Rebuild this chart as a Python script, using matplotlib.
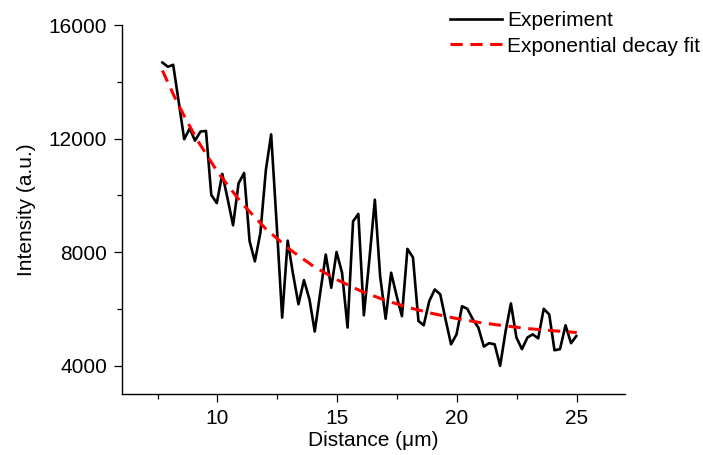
import numpy as np
import matplotlib
matplotlib.use("Agg")
import matplotlib.pyplot as plt
from matplotlib.ticker import MultipleLocator

plt.rcParams['font.family'] = ['Liberation Sans', 'DejaVu Sans']

# intensity profile along the line scan
distance = [7.70, 7.93, 8.15, 8.38, 8.61, 8.84, 9.06, 9.29, 9.52, 9.74,
            9.97, 10.20, 10.43, 10.65, 10.88, 11.11, 11.34, 11.56, 11.79, 12.02,
            12.24, 12.47, 12.70, 12.93, 13.15, 13.38, 13.61, 13.84, 14.06, 14.29,
            14.52, 14.75, 14.97, 15.20, 15.43, 15.66, 15.88, 16.11, 16.34, 16.57,
            16.79, 17.02, 17.25, 17.48, 17.70, 17.93, 18.16, 18.39, 18.61, 18.84,
            19.07, 19.30, 19.52, 19.75, 19.98, 20.21, 20.43, 20.66, 20.89, 21.12,
            21.34, 21.57, 21.80, 22.03, 22.25, 22.48, 22.71, 22.94, 23.16, 23.39,
            23.62, 23.85, 24.07, 24.30, 24.53, 24.76, 24.98]
intensity = [14680, 14530, 14600, 13300, 11980, 12360, 11930, 12250, 12270, 10020,
             9730, 10760, 9850, 8950, 10430, 10790, 8390, 7680, 8680, 10900,
             12150, 9000, 5700, 8410, 7250, 6170, 7020, 6340, 5210, 6580,
             7920, 6750, 8010, 7280, 5350, 9090, 9350, 5780, 7740, 9850,
             7160, 5660, 7280, 6460, 5750, 8120, 7820, 5580, 5430, 6280,
             6690, 6520, 5640, 4760, 5110, 6100, 6010, 5640, 5350, 4680,
             4800, 4760, 4000, 5230, 6200, 5000, 4590, 5000, 5110, 4970,
             6010, 5810, 4550, 4590, 5430, 4800, 5050]

# exponential decay fit curve
fit_distance = [7.7, 8.2, 8.7, 9.2, 10, 11, 12, 13, 14, 15, 16, 17, 18,
                19, 20, 21, 22, 23, 24, 25]
fit_intensity = [14400, 13480, 12650, 11890, 10830, 9740, 8840, 8110, 7510,
                 7030, 6630, 6310, 6050, 5840, 5665, 5520, 5410, 5310, 5240, 5175]

fig = plt.figure(figsize=(7.03, 4.55), dpi=100)
ax = fig.add_axes([0.1731, 0.1334, 0.7155, 0.8116])

ax.plot(distance, intensity, color='black', lw=1.9, label='Experiment')
ax.plot(fit_distance, fit_intensity, color='#ff0000', lw=2.2,
        linestyle=(0, (4, 2.5)), label='Exponential decay fit')

ax.set_xlim(6, 27)
ax.set_ylim(3000, 16000)
ax.xaxis.set_major_locator(MultipleLocator(5))
ax.xaxis.set_minor_locator(MultipleLocator(2.5))
ax.yaxis.set_major_locator(MultipleLocator(4000))
ax.yaxis.set_minor_locator(MultipleLocator(2000))

for side in ['top', 'right']:
    ax.spines[side].set_visible(False)
for side in ['left', 'bottom']:
    ax.spines[side].set_linewidth(1.0)

ax.tick_params(which='major', direction='out', length=5.5, width=0.9,
               labelsize=15, pad=5)
ax.tick_params(which='minor', direction='out', length=3.5, width=0.9)

ax.set_xlabel('Distance (μm)', fontsize=15, labelpad=2)
ax.set_ylabel('Intensity (a.u.)', fontsize=15, labelpad=9)

fig.legend(loc='upper left', bbox_to_anchor=(0.640, 0.975), frameon=False,
           fontsize=15, handlelength=2.5, handletextpad=0.25, labelspacing=0.3,
           borderpad=0, borderaxespad=0)

fig.savefig('out.png', dpi=100)
